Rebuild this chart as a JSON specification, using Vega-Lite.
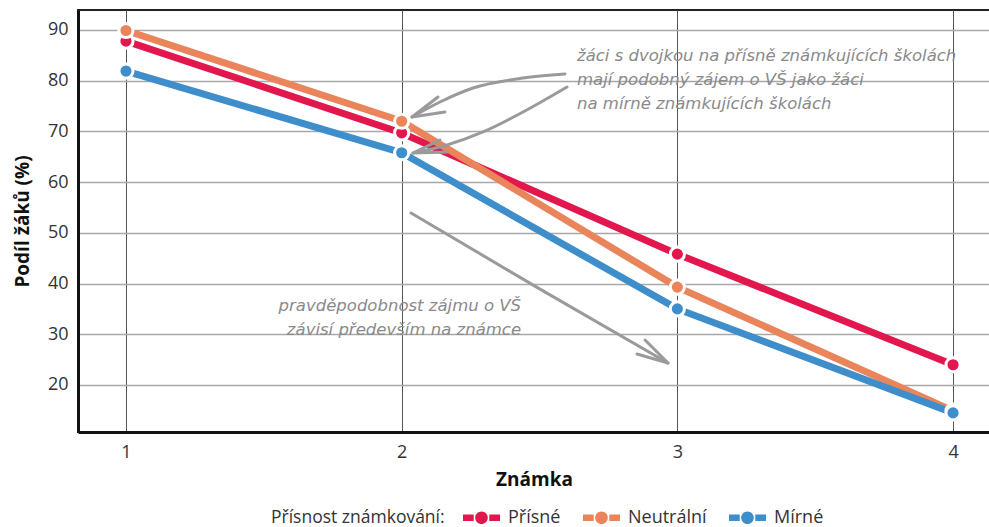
{
  "$schema": "https://vega.github.io/schema/vega-lite/v6.json",
  "width": 912,
  "height": 422,
  "autosize": {"type": "none"},
  "padding": {"left": 78, "top": 10, "right": 0, "bottom": 95},
  "background": "white",
  "view": {"stroke": "#222", "strokeWidth": 2},
  "config": {
    "font": "Open Sans",
    "axis": {"labelFont": "Open Sans", "titleFont": "Open Sans", "labelColor": "#333", "titleColor": "#111", "labelFontSize": 18, "titleFontSize": 19, "titleFontWeight": "bold", "ticks": false, "domainColor": "#111", "domainWidth": 3},
    "legend": {"orient": "none", "legendX": 193, "legendY": 489, "direction": "horizontal", "titleOrient": "left", "titleAnchor": "middle", "titleFontWeight": "normal", "titleFontSize": 17.5, "titleColor": "#333", "titleFont": "Open Sans", "titlePadding": 18, "titleBaseline": "line-top", "titleLineHeight": 10,
      "labelFontSize": 18, "labelColor": "#333", "labelFont": "Open Sans", "labelOffset": 8, "columnPadding": 22,
      "symbolType": "M-1,-0.17H-0.42V0.17H-1Z M0.42,-0.17H1V0.17H0.42Z M-0.34,0A0.34,0.34 0 1,0 0.34,0A0.34,0.34 0 1,0 -0.34,0Z",
      "symbolSize": 1369, "symbolStrokeWidth": 0, "symbolOpacity": 1}
  },
  "datasets": {
    "main": [
      {"znamka": 1, "skupina": "Přísné", "podil": 87.8},
      {"znamka": 2, "skupina": "Přísné", "podil": 69.7},
      {"znamka": 3, "skupina": "Přísné", "podil": 45.8},
      {"znamka": 4, "skupina": "Přísné", "podil": 24.0},
      {"znamka": 1, "skupina": "Neutrální", "podil": 89.9},
      {"znamka": 2, "skupina": "Neutrální", "podil": 72.0},
      {"znamka": 3, "skupina": "Neutrální", "podil": 39.3},
      {"znamka": 4, "skupina": "Neutrální", "podil": 14.9},
      {"znamka": 1, "skupina": "Mírné", "podil": 81.9},
      {"znamka": 2, "skupina": "Mírné", "podil": 65.8},
      {"znamka": 3, "skupina": "Mírné", "podil": 35.0},
      {"znamka": 4, "skupina": "Mírné", "podil": 14.5}
    ],
    "curves": [
      {"arrow": "a1", "k": 1, "x": 2.5925, "y": 81.32},
      {"arrow": "a1", "k": 2, "x": 2.44, "y": 80.53},
      {"arrow": "a1", "k": 3, "x": 2.2588, "y": 78.56},
      {"arrow": "a1", "k": 4, "x": 2.139, "y": 75.8},
      {"arrow": "a1", "k": 5, "x": 2.0375, "y": 72.84},
      {"arrow": "a2", "k": 1, "x": 2.5997, "y": 78.76},
      {"arrow": "a2", "k": 2, "x": 2.4401, "y": 73.83},
      {"arrow": "a2", "k": 3, "x": 2.295, "y": 69.89},
      {"arrow": "a2", "k": 4, "x": 2.1644, "y": 67.32},
      {"arrow": "a2", "k": 5, "x": 2.0411, "y": 65.74},
      {"arrow": "a3", "k": 1, "x": 2.0339, "y": 53.91},
      {"arrow": "a3", "k": 2, "x": 2.5018, "y": 38.9},
      {"arrow": "a3", "k": 3, "x": 2.9661, "y": 24.33}
    ],
    "heads": [
      {"arrow": "a1", "k": 1, "x": 2.1318, "y": 76.79},
      {"arrow": "a1", "k": 2, "x": 2.0375, "y": 72.84},
      {"arrow": "a1", "k": 3, "x": 2.157, "y": 73.83},
      {"arrow": "a2", "k": 1, "x": 2.139, "y": 68.31},
      {"arrow": "a2", "k": 2, "x": 2.0411, "y": 65.74},
      {"arrow": "a2", "k": 3, "x": 2.1644, "y": 65.94},
      {"arrow": "a3", "k": 1, "x": 2.8827, "y": 28.87},
      {"arrow": "a3", "k": 2, "x": 2.9661, "y": 24.33},
      {"arrow": "a3", "k": 3, "x": 2.8537, "y": 26.11}
    ],
    "notes": [
      {"x": 2.636, "y": 84.87, "text": "žáci s dvojkou na přísně známkujících školách", "align": "left"},
      {"x": 2.636, "y": 80.14, "text": "mají podobný zájem o VŠ jako žáci", "align": "left"},
      {"x": 2.636, "y": 75.41, "text": "na mírně známkujících školách", "align": "left"},
      {"x": 2.433, "y": 35.48, "text": "pravděpodobnost zájmu o VŠ", "align": "right"},
      {"x": 2.433, "y": 30.75, "text": "závisí především na známce", "align": "right"}
    ]
  },
  "layer": [
    {
      "data": {"name": "main"},
      "mark": {"type": "line", "strokeWidth": 7, "strokeCap": "butt"},
      "encoding": {
        "x": {"field": "znamka", "type": "quantitative", "scale": {"domain": [0.826, 4.134], "nice": false, "zero": false},
          "axis": {"values": [1, 2, 3, 4], "format": "d", "title": "Známka", "grid": true, "gridColor": "#555", "gridWidth": 1, "labelPadding": 11, "titlePadding": 9, "domainWidth": 3}},
        "y": {"field": "podil", "type": "quantitative", "scale": {"domain": [10.73, 93.94], "nice": false, "zero": false},
          "axis": {"values": [20, 30, 40, 50, 60, 70, 80, 90], "title": "Podíl žáků (%)", "grid": true, "gridColor": "#a8a8a8", "gridWidth": 1.5, "labelPadding": 10, "titlePadding": 15, "domainWidth": 3}},
        "color": {"field": "skupina", "type": "nominal", "title": "Přísnost známkování:",
          "scale": {"domain": ["Přísné", "Neutrální", "Mírné"], "range": ["#e2174e", "#ea855b", "#3d8ecb"]}}
      }
    },
    {
      "data": {"name": "curves"},
      "mark": {"type": "line", "interpolate": "monotone", "color": "#9a9a9a", "strokeWidth": 3, "strokeCap": "round"},
      "encoding": {"x": {"field": "x", "type": "quantitative"}, "y": {"field": "y", "type": "quantitative"}, "detail": {"field": "arrow"}, "order": {"field": "k"}}
    },
    {
      "data": {"name": "heads"},
      "mark": {"type": "line", "color": "#9a9a9a", "strokeWidth": 3, "strokeCap": "round", "strokeJoin": "round"},
      "encoding": {"x": {"field": "x", "type": "quantitative"}, "y": {"field": "y", "type": "quantitative"}, "detail": {"field": "arrow"}, "order": {"field": "k"}}
    },
    {
      "data": {"name": "main"},
      "mark": {"type": "point", "filled": true, "size": 200, "stroke": "white", "strokeWidth": 3, "opacity": 1},
      "encoding": {
        "x": {"field": "znamka", "type": "quantitative"},
        "y": {"field": "podil", "type": "quantitative"},
        "color": {"field": "skupina", "type": "nominal", "title": "Přísnost známkování:"}
      }
    },
    {
      "data": {"name": "notes"},
      "transform": [{"filter": "datum.align == 'left'"}],
      "mark": {"type": "text", "align": "left", "baseline": "middle", "fontSize": 16.5, "fontStyle": "italic", "font": "DejaVu Sans", "color": "#8a8a8a"},
      "encoding": {"x": {"field": "x", "type": "quantitative"}, "y": {"field": "y", "type": "quantitative"}, "text": {"field": "text"}}
    },
    {
      "data": {"name": "notes"},
      "transform": [{"filter": "datum.align == 'right'"}],
      "mark": {"type": "text", "align": "right", "baseline": "middle", "fontSize": 16.5, "fontStyle": "italic", "font": "DejaVu Sans", "color": "#8a8a8a"},
      "encoding": {"x": {"field": "x", "type": "quantitative"}, "y": {"field": "y", "type": "quantitative"}, "text": {"field": "text"}}
    }
  ]
}
